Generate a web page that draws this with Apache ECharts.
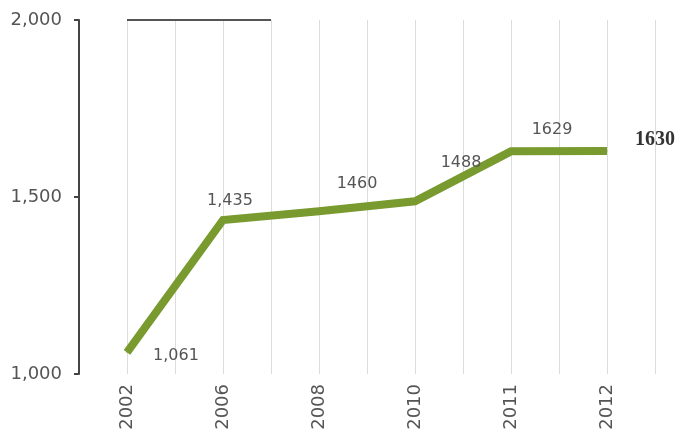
<!DOCTYPE html>
<html>
<head>
<meta charset="utf-8">
<script src="https://cdn.jsdelivr.net/npm/echarts@6/dist/echarts.min.js"></script>
<style>
html,body{margin:0;padding:0;background:#fff;}
#chart{width:677px;height:433px;}
</style>
</head>
<body>
<div id="chart"></div>
<script>
// Data
var categories = ['2002', '2006', '2008', '2010', '2011', '2012'];
var values = [1061, 1435, 1460, 1488, 1629, 1630];
var valueLabels = ['1,061', '1,435', '1460', '1488', '1629', '1630'];
var yTicks = [1000, 1500, 2000];

// Label placement (style only)
var labelOffsets = [[49, 3], [7, -19], [38, -27], [46, -38], [41, -21], [48, -11]];

var FONT = 'DejaVu Sans';
var seriesData = values.map(function (v, i) {
  var last = i === values.length - 1;
  return {
    value: [i * 2, v],
    label: {
      show: true,
      position: 'inside',
      offset: labelOffsets[i],
      formatter: valueLabels[i],
      fontFamily: last ? 'Liberation Serif' : FONT,
      fontWeight: last ? 'bold' : 'normal',
      fontSize: last ? 20 : 16,
      color: last ? '#333' : '#555'
    }
  };
});

var chart = echarts.init(document.getElementById('chart'));
chart.setOption({
  backgroundColor: '#fff',
  animation: false,
  grid: { left: 79, right: 22, top: 20, bottom: 59 },
  xAxis: {
    type: 'value',
    min: -1,
    max: categories.length * 2 - 1,
    interval: 1,
    axisLine: { show: false },
    axisTick: { show: false },
    splitLine: { show: true, lineStyle: { color: '#dcdcdc', width: 1 } },
    axisLabel: {
      rotate: 90,
      margin: 10,
      fontFamily: FONT,
      fontSize: 18,
      color: '#555',
      showMinLabel: true,
      showMaxLabel: true,
      formatter: function (v) {
        if (v >= 0 && v % 2 === 0) return categories[v / 2] || '';
        return '';
      }
    }
  },
  yAxis: {
    type: 'value',
    min: yTicks[0],
    max: yTicks[yTicks.length - 1],
    interval: yTicks[1] - yTicks[0],
    axisLine: { show: true, onZero: false, lineStyle: { color: '#444', width: 2 } },
    axisTick: { show: true, length: 5, lineStyle: { color: '#444', width: 2 } },
    splitLine: { show: false },
    axisLabel: {
      margin: 17,
      fontFamily: FONT,
      fontSize: 18,
      color: '#555',
      formatter: function (v) { return v.toLocaleString('en-US'); }
    }
  },
  series: [{
    type: 'line',
    data: seriesData,
    symbol: 'circle',
    symbolSize: 1,
    itemStyle: { color: '#789a2e' },
    lineStyle: { color: '#789a2e', width: 8, cap: 'butt', join: 'miter' },
    markLine: {
      silent: true,
      symbol: 'none',
      label: { show: false },
      lineStyle: { color: '#555', width: 2, type: 'solid' },
      data: [[{ coord: [0, yTicks[2]] }, { coord: [3, yTicks[2]] }]]
    }
  }]
});
</script>
</body>
</html>
